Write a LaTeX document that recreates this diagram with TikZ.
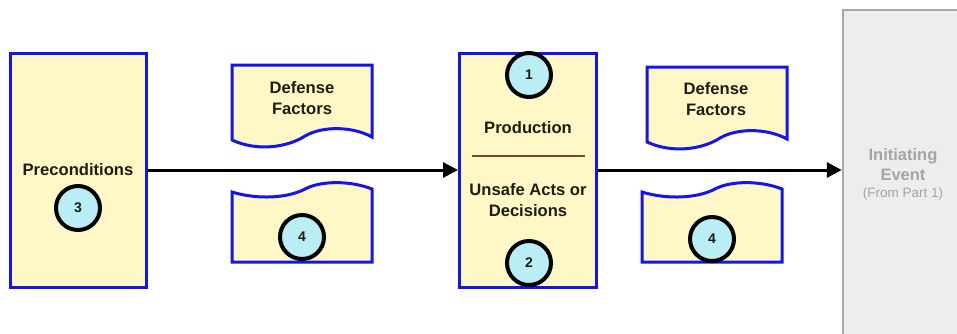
\documentclass[tikz,border=0pt]{standalone}
\usepackage{fontspec}
\setmainfont{Liberation Sans}
\usetikzlibrary{arrows.meta}
\definecolor{boxfill}{HTML}{FFF8C6}
\definecolor{boxblue}{HTML}{1414F0}
\definecolor{circfill}{HTML}{B8EEF4}
\definecolor{txt}{HTML}{1E1E10}
\definecolor{panelfill}{HTML}{EDEDED}
\definecolor{panelline}{HTML}{A8A8A8}
\definecolor{paneltxt}{HTML}{A4A4A4}
\definecolor{sepline}{HTML}{6E4A30}
\begin{document}
\begin{tikzpicture}[x=1pt,y=-1pt,
  box/.style={draw=boxblue, line width=3pt, fill=boxfill, inner sep=0pt},
  num/.style={circle, draw=black, line width=4pt, fill=circfill, minimum size=44pt, inner sep=0pt, font=\fontsize{14}{14}\selectfont\bfseries, text=txt},
  lbl/.style={font=\fontsize{16.6}{20.5}\selectfont\bfseries, text=txt, align=center, inner sep=0pt},
  flow/.style={line width=3pt, -{Triangle[length=15pt,width=15pt]}},
  docup/.pic={\draw[box] (232,65) -- (372,65) -- (372,137) .. controls (352,126) and (322,126) .. (305,136) .. controls (288,147) and (258,152) .. (232,140) -- cycle;},
  docdown/.pic={\draw[box] (232,262) -- (372,262) -- (372,189) .. controls (352,181) and (322,180) .. (305,189) .. controls (288,198) and (258,200) .. (232,192) -- cycle;}]
\useasboundingbox (0,0) rectangle (957,333);
\fill[white] (0,0) rectangle (957,333);
% grey panel
\node[draw=panelline, fill=panelfill, line width=2.5pt, minimum width=126pt, minimum height=336pt, inner sep=0pt] (panel) at (906,178) {};
\node[font=\fontsize{16.5}{20}\selectfont\bfseries, text=paneltxt, align=center, inner sep=0pt] (ie) at (903,165) {Initiating\\Event};
\node[font=\fontsize{13.5}{15}\selectfont, text=paneltxt, inner sep=0pt] (fp) at (903,194) {(From Part 1)};
% left box
\node[box, minimum width=136pt, minimum height=234pt] (pre) at (78,170) {};
\node[lbl] (pretxt) at (78,170) {Preconditions};
\node[num] (c3) at (78,208) {3};
% middle box
\node[box, minimum width=137pt, minimum height=234pt] (mid) at (528,170) {};
\node[num] (c1) at (529,75) {1};
\node[num] (c2) at (529,263) {2};
\node[lbl] (prod) at (528,128) {Production};
\coordinate (sepL) at (472,156);
\coordinate (sepR) at (585,156);
\draw[sepline, line width=1.5pt] (sepL) -- (sepR);
\node[lbl] (unsafe) at (528,200) {Unsafe Acts or\\Decisions};
% defense factor documents
\pic at (0,0) {docup};
\pic at (0,0) {docdown};
\pic at (415,2) {docup};
\pic at (410,0) {docdown};
\node[lbl] (df1) at (302,98) {Defense\\Factors};
\node[lbl] (df2) at (716,99) {Defense\\Factors};
\node[num] (c4a) at (302,237) {4};
\node[num] (c4b) at (712,239) {4};
% arrows
\draw[flow] (pre.east |- 0,170) -- (mid.west |- 0,170);
\draw[flow] (mid.east |- 0,170) -- (panel.west |- 0,170);
\end{tikzpicture}
\end{document}
